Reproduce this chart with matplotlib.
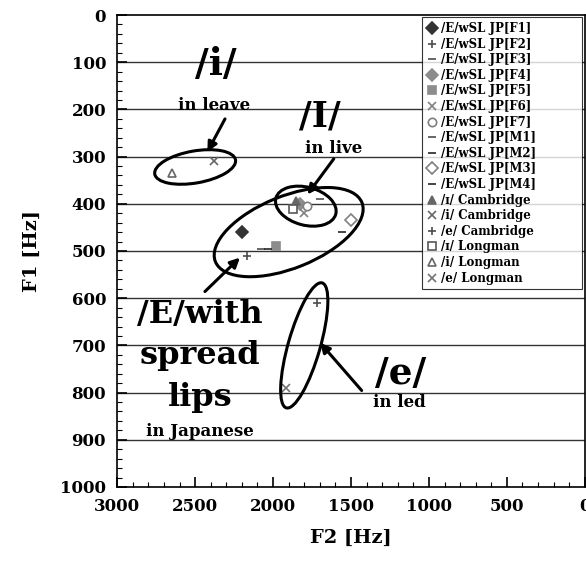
import matplotlib
matplotlib.use("Agg")
import matplotlib.pyplot as plt
from matplotlib.patches import Ellipse
from matplotlib.transforms import ScaledTranslation

plt.rcParams['font.family'] = ['DejaVu Serif']
plt.rcParams['font.weight'] = 'bold'

# series: label, F2, F1, marker, color, filled
labels = ['/E/wSL JP[F1]', '/E/wSL JP[F2]', '/E/wSL JP[F3]', '/E/wSL JP[F4]',
          '/E/wSL JP[F5]', '/E/wSL JP[F6]', '/E/wSL JP[F7]', '/E/wSL JP[M1]',
          '/E/wSL JP[M2]', '/E/wSL JP[M3]', '/E/wSL JP[M4]',
          '/ɪ/ Cambridge', '/i/ Cambridge', '/e/ Cambridge',
          '/ɪ/ Longman', '/i/ Longman', '/e/ Longman']
f2 = [2200, 2170, 2080, 1830, 1980, 1800, 1780, 1700, 1560, 1500, 2030,
      1850, 2380, 1720, 1870, 2650, 1920]
f1 = [460, 510, 495, 400, 490, 420, 405, 390, 460, 435, 495,
      395, 310, 610, 410, 335, 790]
markers = ['D', '+', '_', 'D', 's', 'x', 'o', '_', '_', 'D', '_',
           '^', 'x', '+', 's', '^', 'x']
colors = ['0.2', '0.3', '0.3', '0.55', '0.55', '0.5', '0.5', '0.3', '0.15', '0.5', '0.15',
          '0.4', '0.4', '0.3', '0.35', '0.4', '0.45']
filled = [True, True, True, True, True, True, False, True, True, False, True,
          True, True, True, False, False, True]

fig = plt.figure(figsize=(5.86, 5.77), dpi=100)
ax = fig.add_axes([0.2, 0.156, 0.798, 0.818])

for lab, x, y, m, c, f in zip(labels, f2, f1, markers, colors, filled):
    ax.plot([x], [y], linestyle='none', marker=m, markersize=6,
            markeredgewidth=1.2, color=c,
            markerfacecolor=c if f else 'white', label=lab)

ax.set_xlim(3000, 0)
ax.set_ylim(1000, 0)
ax.set_xticks([3000, 2500, 2000, 1500, 1000, 500, 0])
ax.set_yticks(range(0, 1001, 100))
ax.set_xticks(range(0, 3001, 100), minor=True)
ax.set_yticks(range(0, 1001, 20), minor=True)
ax.tick_params(which='both', direction='in', top=False, right=False)
ax.tick_params(which='major', length=7, width=1.2, labelsize=12, pad=8)
ax.tick_params(which='minor', length=3.5, width=0.8)
for s in ax.spines.values():
    s.set_linewidth(1.2)
for lab in ax.get_xticklabels() + ax.get_yticklabels():
    lab.set_fontweight('bold')

for g in range(100, 1000, 100):
    ax.axhline(g, color='0.2', lw=1.0, zorder=0)

ax.set_xlabel('F2 [Hz]', fontsize=14, fontweight='bold', labelpad=10)
ax.set_ylabel('F1 [Hz]', fontsize=14, fontweight='bold', labelpad=14)

# ellipses: centre (F2, F1), width/height in pixels, angle in degrees
ellipses = [((2500, 322), 82, 32, 10),
            ((1790, 405), 62, 38, -15),
            ((1900, 460), 158, 72, 22),
            ((1800, 700), 130, 32, 74)]
for (cx, cy), w, h, a in ellipses:
    tr = fig.dpi_scale_trans + ScaledTranslation(cx, cy, ax.transData)
    ax.add_patch(Ellipse((0, 0), w / 100, h / 100, angle=a, transform=tr,
                         fill=False, edgecolor='black', lw=2.2, zorder=3))

arrows = [((2300, 215), (2430, 295)),
          ((1600, 300), (1790, 385)),
          ((2450, 590), (2200, 510)),
          ((1420, 800), (1710, 690))]
for tail, head in arrows:
    ax.annotate('', xy=head, xytext=tail,
                arrowprops=dict(arrowstyle='-|>', color='black', lw=2.2,
                                mutation_scale=14))

big = dict(ha='center', va='center', fontweight='bold', color='black')
ax.text(2370, 105, '/i/', fontsize=27, **big)
ax.text(2380, 192, 'in leave', fontsize=12, **big)
ax.text(1700, 215, '/I/', fontsize=25, **big)
ax.text(1610, 282, 'in live', fontsize=12, **big)
ax.text(2470, 635, '/E/with', fontsize=23, **big)
ax.text(2470, 722, 'spread', fontsize=23, **big)
ax.text(2470, 810, 'lips', fontsize=23, **big)
ax.text(2470, 882, 'in Japanese', fontsize=12, **big)
ax.text(1180, 760, '/e/', fontsize=27, **big)
ax.text(1190, 822, 'in led', fontsize=12, **big)

leg = ax.legend(loc='upper left', bbox_to_anchor=(0.652, 0.995, 0.343, 0.0),
                mode='expand', fontsize=8.5, handlelength=0.9,
                handletextpad=0.3, labelspacing=0.22, borderpad=0.4,
                frameon=True, fancybox=False, edgecolor='black',
                borderaxespad=0.0)
leg.get_frame().set_linewidth(0.8)
for t in leg.get_texts():
    t.set_fontweight('bold')

fig.savefig('out.png', dpi=100)
